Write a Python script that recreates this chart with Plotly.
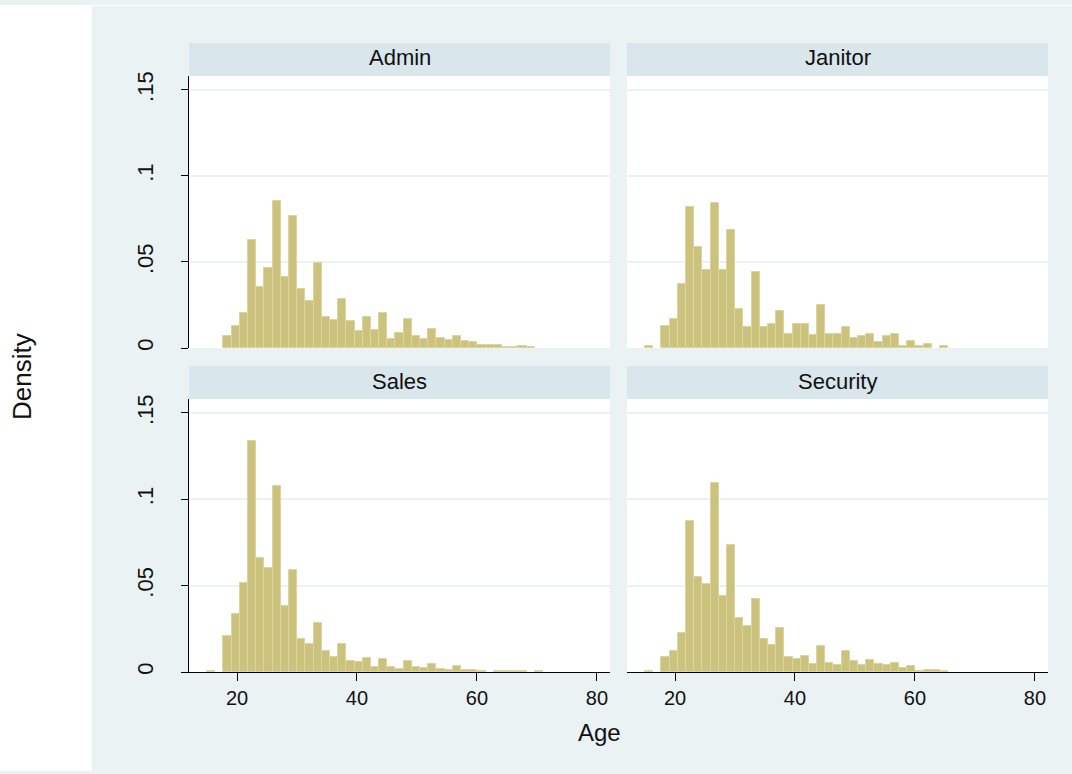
import plotly.graph_objects as go

# Histogram bins shared by all four groups
BIN_START = 15.0
BIN_END = 71.0
N_BINS = 41

groups = ["Admin", "Janitor", "Sales", "Security"]

# Density per bin (bin 0 starts at BIN_START)
admin = [0, 0, 0.0068, 0.0130, 0.0203, 0.0630, 0.0357, 0.0465, 0.0857, 0.0413,
         0.0769, 0.0343, 0.0271, 0.0496, 0.0182, 0.0163, 0.0287, 0.0159, 0.0099, 0.0182,
         0.0107, 0.0205, 0.0054, 0.0085, 0.0169, 0.0072, 0.0052, 0.0112, 0.0060, 0.0047,
         0.0072, 0.0041, 0.0037, 0.0019, 0.0016, 0.0016, 0.0006, 0.0006, 0.0010, 0.0004, 0]
janitor = [0.0014, 0, 0.0130, 0.0169, 0.0372, 0.0818, 0.0587, 0.0453, 0.0843, 0.0453,
           0.0686, 0.0229, 0.0120, 0.0444, 0.0120, 0.0141, 0.0217, 0.0083, 0.0141, 0.0141,
           0.0074, 0.0250, 0.0081, 0.0081, 0.0120, 0.0058, 0.0072, 0.0081, 0.0033, 0.0072,
           0.0081, 0.0014, 0.0043, 0.0014, 0.0023, 0, 0.0014, 0, 0, 0, 0]
sales = [0.0008, 0, 0.0206, 0.0335, 0.0518, 0.1337, 0.0663, 0.0601, 0.1076, 0.0383,
         0.0588, 0.0189, 0.0161, 0.0286, 0.0123, 0.0088, 0.0165, 0.0066, 0.0058, 0.0084,
         0.0031, 0.0076, 0.0029, 0.0018, 0.0062, 0.0027, 0.0021, 0.0047, 0.0019, 0.0014,
         0.0037, 0.0010, 0.0014, 0.0006, 0, 0.0006, 0.0006, 0.0006, 0.0006, 0, 0.0008]
security = [0.0008, 0, 0.0087, 0.0120, 0.0225, 0.0876, 0.0550, 0.0509, 0.1097, 0.0443,
            0.0736, 0.0313, 0.0264, 0.0423, 0.0194, 0.0159, 0.0256, 0.0089, 0.0078, 0.0095,
            0.0047, 0.0153, 0.0050, 0.0043, 0.0120, 0.0066, 0.0039, 0.0072, 0.0049, 0.0041,
            0.0054, 0.0021, 0.0037, 0.0008, 0.0010, 0.0014, 0.0008, 0, 0, 0, 0]

densities = [admin, janitor, sales, security]

x_ticks = [20, 40, 60, 80]
y_ticks = [0, 0.05, 0.1, 0.15]
y_tick_text = ["0", ".05", ".1", ".15"]

W, H = 1072, 774
GRAPH_BG = "#EAF2F3"
STRIP_BG = "#D9E6EB"
BAR_FILL = "#CBC27E"
BAR_LINE = "#DCD5A0"
FONT = "Arial, Liberation Sans, Helvetica, sans-serif"

# vertical layout helper: pixel row (from top) -> paper fraction
TOP_OFF, DRAW_H = 4, 766


def py(px):
    return 1 - (px - TOP_OFF) / DRAW_H


bin_w = (BIN_END - BIN_START) / N_BINS
centers = [BIN_START + bin_w * (i + 0.5) for i in range(N_BINS)]

# panel geometry in pixels: (left, right) and (top, bottom) of each plot area
cols_px = [(189, 610), (627, 1048)]
rows_px = [(75, 347), (398, 671)]
strip_h = 33

fig = go.Figure()

# white page margin to the left of and above the graph region
fig.add_shape(type="rect", xref="paper", yref="paper",
              x0=0, x1=92 / W, y0=0, y1=1,
              fillcolor="white", line_width=0, layer="below")
fig.add_shape(type="rect", xref="paper", yref="paper",
              x0=0, x1=1, y0=py(5), y1=1,
              fillcolor="white", line_width=0, layer="below")

for k, (name, dens) in enumerate(zip(groups, densities)):
    r, c = divmod(k, 2)
    ax = "" if k == 0 else str(k + 1)
    # empty bins are left out so no outline is drawn for them
    fig.add_trace(go.Bar(
        x=centers, y=[d if d > 0 else None for d in dens], width=bin_w,
        marker=dict(color=BAR_FILL, line=dict(color=BAR_LINE, width=1)),
        xaxis="x" + ax, yaxis="y" + ax, showlegend=False,
    ))

    l, rt = cols_px[c]
    tp, bt = rows_px[r]
    left_col = c == 0
    bottom_row = r == 1

    fig.layout["xaxis" + ax] = dict(
        domain=[l / W, rt / W], range=[12.0, 82.17], anchor="y" + ax,
        tickvals=x_ticks, showgrid=False, zeroline=False,
        showline=bottom_row, linecolor="black", linewidth=1,
        ticks="outside" if bottom_row else "", ticklen=8, tickcolor="black",
        showticklabels=bottom_row,
        tickfont=dict(family=FONT, size=20, color="#111"),
    )
    fig.layout["yaxis" + ax] = dict(
        domain=[py(bt), py(tp)], range=[0, 0.1581], anchor="x" + ax,
        tickvals=y_ticks, ticktext=y_tick_text,
        showgrid=True, gridcolor=GRAPH_BG, gridwidth=2, zeroline=False,
        showline=left_col, linecolor="black", linewidth=1,
        ticks="outside" if left_col else "", ticklen=7, tickcolor="black",
        showticklabels=left_col, tickangle=-90, ticklabelstandoff=19,
        tickfont=dict(family=FONT, size=22, color="#111"),
    )

    # strip header
    fig.add_shape(type="rect", xref="paper", yref="paper",
                  x0=l / W, x1=rt / W,
                  y0=py(tp), y1=py(tp - strip_h),
                  fillcolor=STRIP_BG, line_width=0)
    fig.add_annotation(x=(l + rt) / 2 / W, y=py(tp - strip_h / 2 - 1.5),
                       xref="paper", yref="paper", text=name, showarrow=False,
                       xanchor="center", yanchor="middle",
                       font=dict(family=FONT, size=22, color="#111"))

# shared axis titles
fig.add_annotation(x=599 / W, y=py(731), xref="paper", yref="paper",
                   text="Age", showarrow=False, xanchor="center", yanchor="middle",
                   font=dict(family=FONT, size=24, color="#111"))
fig.add_annotation(x=22 / W, y=py(376), xref="paper", yref="paper",
                   text="Density", showarrow=False, textangle=-90,
                   xanchor="center", yanchor="middle",
                   font=dict(family=FONT, size=26, color="#111"))

fig.update_layout(
    width=W, height=H, margin=dict(l=0, r=0, t=0, b=0),
    paper_bgcolor=GRAPH_BG, plot_bgcolor="white",
    barmode="overlay", bargap=0,
)

fig.write_html("out.html")
